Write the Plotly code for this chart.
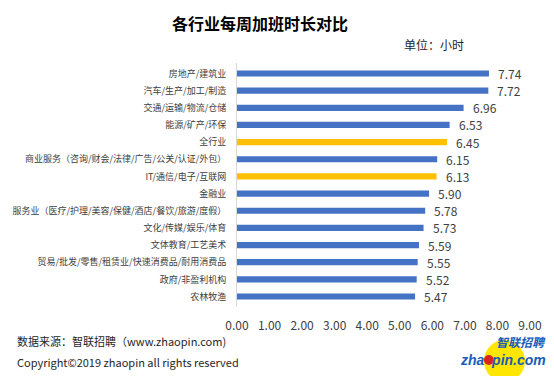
import plotly.graph_objects as go

categories = ["房地产/建筑业", "汽车/生产/加工/制造", "交通/运输/物流/仓储", "能源/矿产/环保", "全行业",
              "商业服务（咨询/财会/法律/广告/公关/认证/外包）", "IT/通信/电子/互联网", "金融业",
              "服务业（医疗/护理/美容/保健/酒店/餐饮/旅游/度假）", "文化/传媒/娱乐/体育", "文体教育/工艺美术",
              "贸易/批发/零售/租赁业/快速消费品/耐用消费品", "政府/非盈利机构", "农林牧渔"]
values = [7.74, 7.72, 6.96, 6.53, 6.45, 6.15, 6.13, 5.90, 5.78, 5.73, 5.59, 5.55, 5.52, 5.47]
highlight = ["全行业", "IT/通信/电子/互联网"]
tick_vals = [0, 1, 2, 3, 4, 5, 6, 7, 8, 9]
tick_text = ["0.00", "1.00", "2.00", "3.00", "4.00", "5.00", "6.00", "7.00", "8.00", "9.00"]

BLUE = "#4472C4"
YELLOW = "#FFC000"
FONT = "Noto Sans CJK SC"
W, H = 554, 376
L, R, T, B = 236, 19, 63, 69

colors = [YELLOW if c in highlight else BLUE for c in categories]

fig = go.Figure(go.Bar(
    x=values, y=categories, orientation="h",
    marker=dict(color=colors, line=dict(width=0)),
    width=0.36,
))

for c, v in zip(categories, values):
    fig.add_annotation(x=v, y=c, xref="x", yref="y", text=f"{v:.2f}", showarrow=False,
                       xanchor="left", xshift=7, font=dict(family=FONT, size=12, color="#404040"))

def px(xp):
    return (xp - L) / (W - L - R)

def py(yp):
    return (H - B - yp) / (H - T - B)

# footer texts
fig.add_annotation(x=px(9), y=py(341), xref="paper", yref="paper", xanchor="left", yanchor="middle",
                   text="数据来源：智联招聘（www.zhaopin.com)", showarrow=False,
                   font=dict(family=FONT, size=11, color="#262626"))
fig.add_annotation(x=px(9), y=py(362), xref="paper", yref="paper", xanchor="left", yanchor="middle",
                   text="Copyright©2019 zhaopin all rights reserved", showarrow=False,
                   font=dict(family=FONT, size=11, color="#262626"))
fig.add_annotation(x=px(470), y=py(44), xref="paper", yref="paper", xanchor="right", yanchor="middle",
                   text="单位：小时", showarrow=False,
                   font=dict(family=FONT, size=12, color="#262626"))

# logo
fig.add_shape(type="circle", xref="paper", yref="paper",
              x0=px(488), x1=px(530), y0=py(382), y1=py(340),
              fillcolor="#FFE600", line=dict(width=0), layer="above")
fig.add_annotation(x=px(553), y=py(341), xref="paper", yref="paper", xanchor="right", yanchor="middle",
                   text="<b><i>智联招聘</i></b>", showarrow=False,
                   font=dict(family=FONT, size=12, color="#1A5BB8"))
fig.add_annotation(x=px(553), y=py(360), xref="paper", yref="paper", xanchor="right", yanchor="middle",
                   text="<b><i>zha  pin.com</i></b>", showarrow=False,
                   font=dict(family="Liberation Sans", size=14, color="#1A5BB8"))
fig.add_shape(type="circle", xref="paper", yref="paper",
              x0=px(488), x1=px(498), y0=py(365), y1=py(355),
              fillcolor="#D8231F", line=dict(width=0), layer="above")

fig.update_layout(
    width=W, height=H,
    margin=dict(l=L, r=R, t=T, b=B, pad=0),
    paper_bgcolor="white", plot_bgcolor="white",
    title=dict(text="<b>各行业每周加班时长对比</b>", x=260 / W, xanchor="center",
               y=1 - 24 / H, yanchor="middle", xref="container", yref="container",
               font=dict(family=FONT, size=16, color="#000000")),
    xaxis=dict(range=[0, 9], tickvals=tick_vals, ticktext=tick_text, showgrid=False,
               zeroline=False, showline=False, ticks="", ticklabelstandoff=10,
               tickfont=dict(family=FONT, size=12, color="#404040"), fixedrange=True),
    yaxis=dict(categoryorder="array", categoryarray=categories, autorange="reversed",
               showline=True, linecolor="#D9D9D9", linewidth=1, showgrid=False, ticks="",
               ticklabelstandoff=8,
               tickfont=dict(family=FONT, size=9, color="#404040"), fixedrange=True),
    showlegend=False,
)

fig.write_html("out.html", config={"displayModeBar": False},
               post_script="document.body.style.margin='0';document.body.style.overflow='hidden';")
